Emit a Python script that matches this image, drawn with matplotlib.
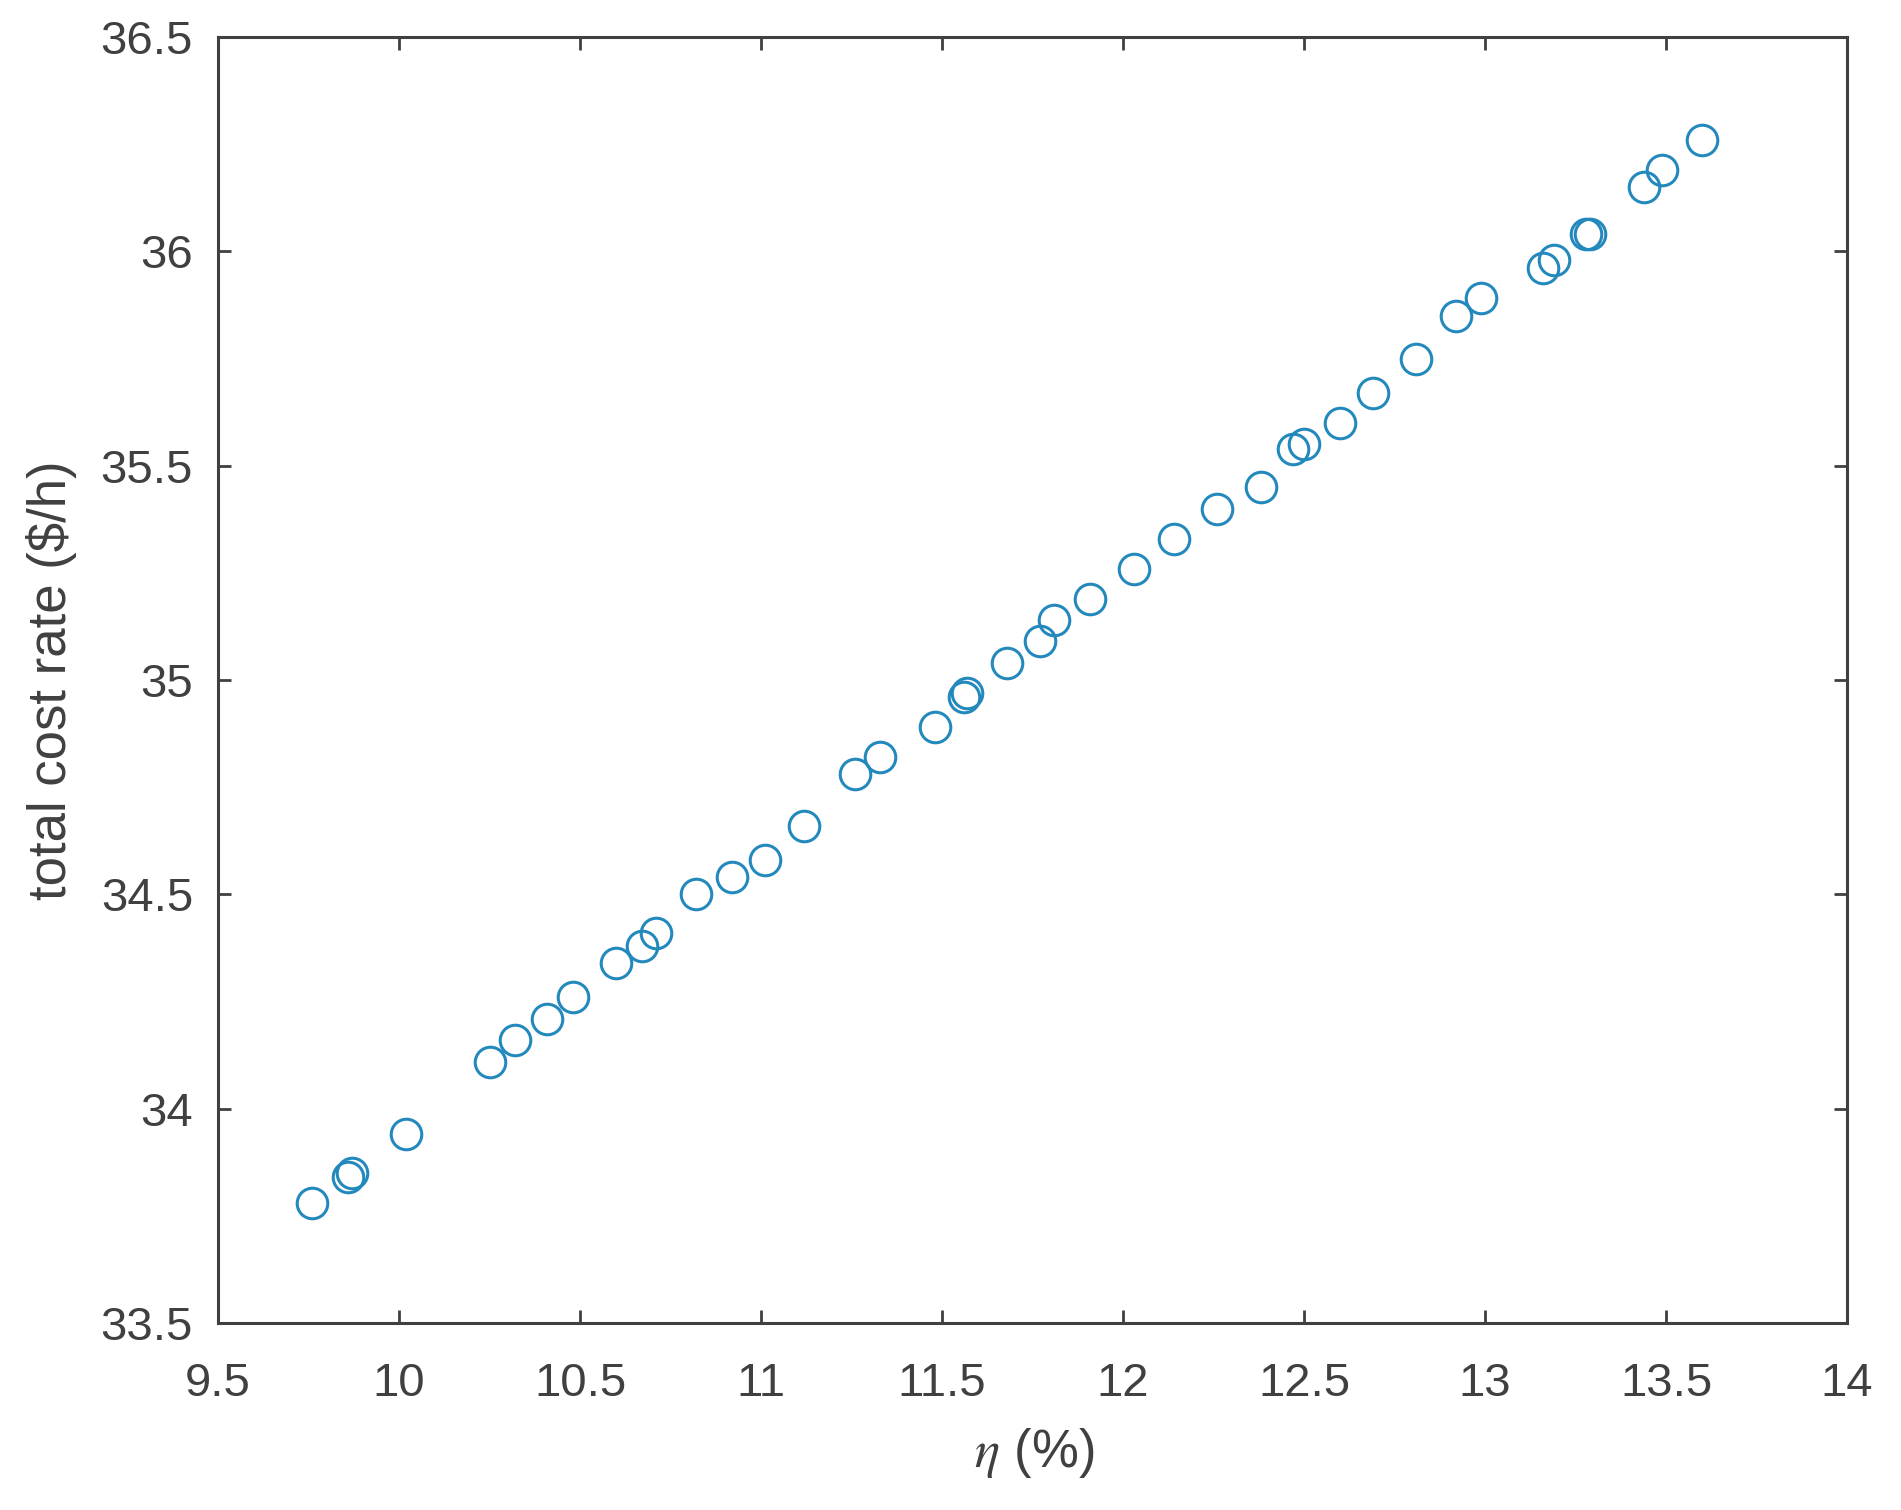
import matplotlib
matplotlib.use("Agg")
import matplotlib.pyplot as plt

# efficiency (%) and total cost rate ($/h)
eta = [9.76, 9.86, 9.87, 10.02, 10.25, 10.32, 10.41, 10.48, 10.60, 10.67,
       10.71, 10.82, 10.92, 11.01, 11.12, 11.26, 11.33, 11.48, 11.56, 11.57,
       11.68, 11.77, 11.81, 11.91, 12.03, 12.14, 12.26, 12.38, 12.47, 12.50,
       12.60, 12.69, 12.81, 12.92, 12.99, 13.16, 13.19, 13.28, 13.29, 13.44,
       13.49, 13.60]
cost = [33.78, 33.84, 33.85, 33.94, 34.11, 34.16, 34.21, 34.26, 34.34, 34.38,
        34.41, 34.50, 34.54, 34.58, 34.66, 34.78, 34.82, 34.89, 34.96, 34.97,
        35.04, 35.09, 35.14, 35.19, 35.26, 35.33, 35.40, 35.45, 35.54, 35.55,
        35.60, 35.67, 35.75, 35.85, 35.89, 35.96, 35.98, 36.04, 36.04, 36.15,
        36.19, 36.26]

x_ticks = [9.5, 10, 10.5, 11, 11.5, 12, 12.5, 13, 13.5, 14]
y_ticks = [33.5, 34, 34.5, 35, 35.5, 36, 36.5]

plt.rcParams["font.family"] = ["Liberation Sans", "DejaVu Sans"]
plt.rcParams["mathtext.fontset"] = "stix"

AX_COLOR = "#404040"

fig = plt.figure(figsize=(19.01, 15.10), dpi=100)
ax = fig.add_axes([0.1147, 0.1238, 0.8569, 0.8517])

ax.plot(eta, cost, linestyle="none", marker="o", markersize=22,
        markerfacecolor="none", markeredgecolor="#2389bd", markeredgewidth=2.2)

ax.set_xlim(9.5, 14)
ax.set_ylim(33.5, 36.5)
ax.set_xticks(x_ticks)
ax.set_yticks(y_ticks)
ax.set_xticklabels([f"{v:g}" for v in x_ticks])
ax.set_yticklabels([f"{v:g}" for v in y_ticks])

ax.tick_params(direction="in", length=9.5, width=2, colors=AX_COLOR,
               labelsize=34, top=True, right=True)
ax.tick_params(axis="x", pad=28)
ax.tick_params(axis="y", pad=18)
for side in ax.spines.values():
    side.set_color(AX_COLOR)
    side.set_linewidth(2.2)

ax.set_xlabel(r"$\eta$ (%)", fontsize=38, color=AX_COLOR, va="center")
ax.set_ylabel("total cost rate (\\$/h)", fontsize=38, color=AX_COLOR, va="center")
ax.xaxis.set_label_coords(0.501, -0.101)
ax.yaxis.set_label_coords(-0.102, 0.5)

fig.savefig("out.png", dpi=100)
